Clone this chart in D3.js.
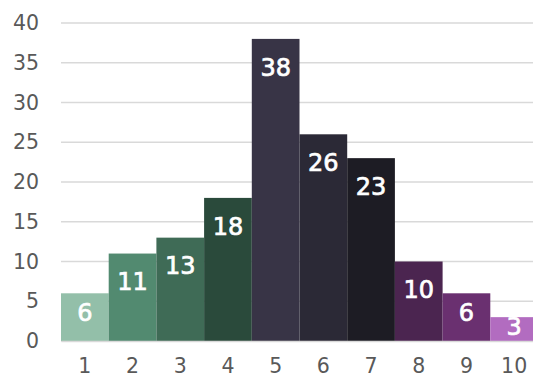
<!DOCTYPE html>
<html>
<head>
<meta charset="utf-8">
<script src="https://cdn.jsdelivr.net/npm/d3@7"></script>
<style>
  body { margin: 0; background: #fff; }
  svg { display: block; }
</style>
</head>
<body>
<svg id="chart" width="533" height="383"></svg>
<script>
let categories = ['1', '2', '3', '4', '5', '6', '7', '8', '9', '10'];
let values = [6, 11, 13, 18, 38, 26, 23, 10, 6, 3];
let colors = ['#93bfa9', '#528a70', '#3f6b56', '#2a4a3b', '#383446', '#2b2936', '#1d1c24', '#4b2550', '#6a3070', '#b26cc0'];
let yTicks = [0, 5, 10, 15, 20, 25, 30, 35, 40];

let svg = d3.select('#chart');
let font = '"DejaVu Sans", sans-serif';

let padding = { top: 23, bottom: 42, left: 61, right: -5 };
let width = 533, height = 383;

let x = d3.scaleBand()
  .domain(categories)
  .range([padding.left, width - padding.right])
  .padding(0);

let y = d3.scaleLinear()
  .domain([0, 40])
  .range([height - padding.bottom, padding.top]);

// gridlines
svg.append('g')
  .selectAll('line')
  .data(yTicks)
  .enter()
  .append('line')
  .attr('x1', padding.left)
  .attr('x2', width)
  .attr('y1', d => y(d))
  .attr('y2', d => y(d))
  .attr('stroke', '#d9d9d9')
  .attr('stroke-width', 1.5);

// y axis labels
let yAxis = svg.append('g')
  .attr('transform', `translate(${padding.left}, 0)`)
  .call(d3.axisLeft(y).tickValues(yTicks).tickSize(0).tickPadding(22));
yAxis.select('.domain').remove();
yAxis.selectAll('text')
  .attr('fill', '#595959')
  .style('font-family', font)
  .style('font-size', '20.5px');

// bars
svg.append('g')
  .selectAll('rect')
  .data(values)
  .enter()
  .append('rect')
  .attr('x', (d, i) => x(categories[i]))
  .attr('y', d => y(d))
  .attr('width', x.bandwidth())
  .attr('height', d => y(0) - y(d))
  .attr('fill', (d, i) => colors[i]);

// value labels
svg.append('g')
  .selectAll('text')
  .data(values)
  .enter()
  .append('text')
  .attr('x', (d, i) => x(categories[i]) + x.bandwidth() / 2)
  .attr('y', d => {
    let h = y(0) - y(d);
    return y(d) + Math.min(28, h * 0.39);
  })
  .attr('dy', '0.36em')
  .attr('text-anchor', 'middle')
  .attr('fill', '#fff')
  .attr('stroke', '#fff')
  .attr('stroke-width', 0.7)
  .style('font-family', font)
  .style('font-size', '24px')
  .text(d => d);

// x axis
let xAxis = svg.append('g')
  .attr('transform', `translate(0, ${y(0)})`)
  .call(d3.axisBottom(x).tickSize(0).tickPadding(17));
xAxis.select('.domain')
  .attr('stroke', '#d9d9d9')
  .attr('stroke-width', 1.5);
xAxis.selectAll('text')
  .attr('fill', '#595959')
  .style('font-family', font)
  .style('font-size', '20.5px');
</script>
</body>
</html>
